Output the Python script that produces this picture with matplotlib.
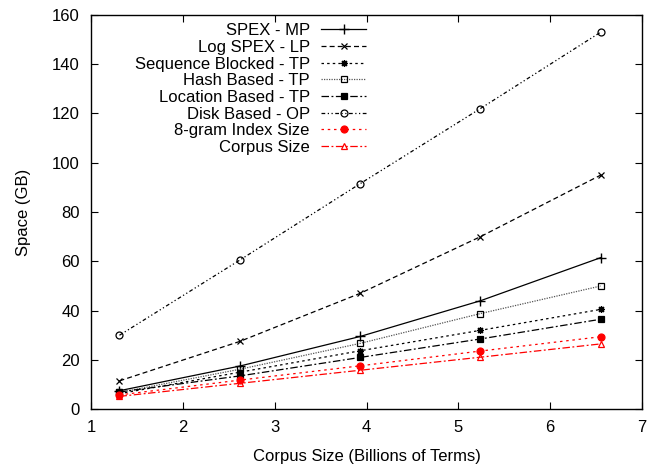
import matplotlib
matplotlib.use("Agg")
import matplotlib.pyplot as plt

plt.rcParams['font.family'] = ['Liberation Sans', 'DejaVu Sans']
plt.rcParams['font.size'] = 12

corpus_size = [1.31, 2.62, 3.93, 5.24, 6.55]

spex_mp = [7.5, 17.5, 29.5, 44.0, 61.5]
log_spex_lp = [11.5, 27.5, 47.0, 70.0, 95.0]
seq_blocked_tp = [6.3, 15.0, 23.7, 32.0, 40.5]
hash_based_tp = [6.8, 16.2, 26.7, 38.8, 50.0]
location_based_tp = [7.0, 13.5, 21.0, 28.5, 36.5]
disk_based_op = [30.0, 60.5, 91.5, 122.0, 153.0]
gram8_index = [5.8, 11.8, 17.6, 23.6, 29.4]
corpus_sz = [5.2, 10.5, 15.8, 21.1, 26.5]

fig, ax = plt.subplots(figsize=(6.64, 4.65), dpi=100)
fig.subplots_adjust(left=0.137, right=0.967, top=0.968, bottom=0.120)

kw = dict(lw=0.9, ms=5, mew=0.9)
ax.plot(corpus_size, spex_mp, color='black', ls='-', marker='+', ms=7, label='SPEX - MP', lw=0.9)
ax.plot(corpus_size, log_spex_lp, color='black', ls=(0, (4, 2.5)), marker='x', label='Log SPEX - LP', **kw)
ax.plot(corpus_size, seq_blocked_tp, color='black', ls=(0, (2, 2.5)), marker=(8, 2, 0), label='Sequence Blocked - TP', **kw)
ax.plot(corpus_size, hash_based_tp, color='#555555', ls=(0, (1, 1)), marker='s', mfc='none', mec='black', label='Hash Based - TP', **kw)
ax.plot(corpus_size, location_based_tp, color='black', ls=(0, (6, 2, 1.5, 2)), marker='s', label='Location Based - TP', **kw)
ax.plot(corpus_size, disk_based_op, color='black', ls=(0, (3, 2, 1, 2, 1, 2)), marker='o', mfc='none', label='Disk Based - OP', **kw)
ax.plot(corpus_size, gram8_index, color='red', ls=(0, (2, 3)), marker='o', label='8-gram Index Size', **kw)
ax.plot(corpus_size, corpus_sz, color='red', ls=(0, (6, 2, 1.5, 2)), marker='^', mfc='none', label='Corpus Size', **kw)

ax.set_xlim(1, 7)
ax.set_ylim(0, 160)
ax.set_xticks(range(1, 8))
ax.set_yticks(range(0, 161, 20))
ax.tick_params(direction='in', top=True, right=True, length=5, width=0.8, labelsize=12, pad=8)
for s in ax.spines.values():
    s.set_linewidth(1.0)
ax.set_xlabel('Corpus Size (Billions of Terms)', fontsize=12, labelpad=10)
ax.set_ylabel('Space (GB)', fontsize=12, labelpad=15)

ax.legend(loc='upper right', bbox_to_anchor=(0.515, 1.0), frameon=False,
          markerfirst=False, handlelength=2.7, handletextpad=0.7,
          labelspacing=0.1, borderpad=0, fontsize=12)

fig.savefig('out.png', dpi=100)
